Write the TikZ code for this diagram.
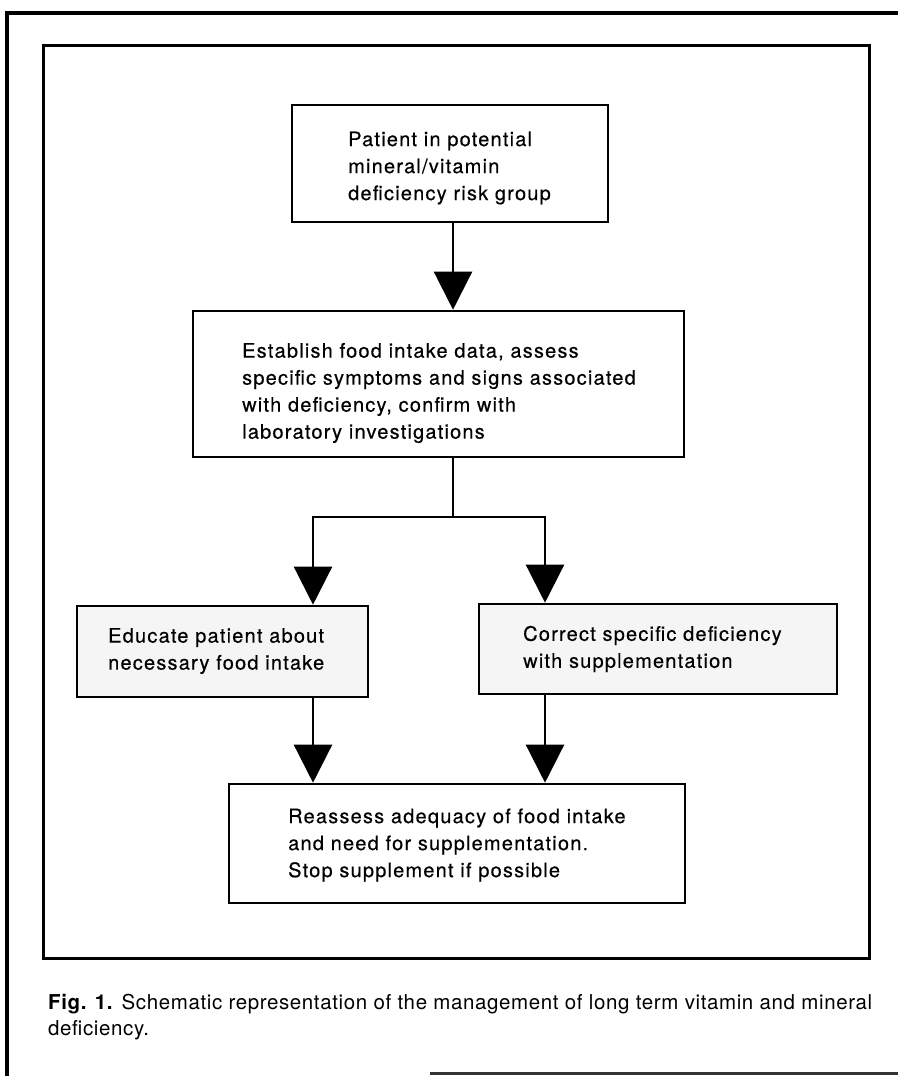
\documentclass[tikz,border=0pt]{standalone}
\usepackage{fontspec}
\setmainfont{TeX Gyre Heros}
\newfontfamily\boxfont[LetterSpace=6,FakeBold=0.4]{TeX Gyre Heros}
\newfontfamily\capfont[LetterSpace=3]{TeX Gyre Heros}
\usetikzlibrary{arrows.meta}
\begin{document}
\begin{tikzpicture}[x=1pt,y=-1pt,
  box/.style={draw, line width=2.6pt, rectangle, inner sep=0pt},
  shadebox/.style={box, fill=black!4},
  txt/.style={align=left, font=\boxfont\fontsize{20}{27}\selectfont, inner sep=0pt, anchor=west},
  conn/.style={line width=2.4pt, -{Triangle[width=38pt,length=38pt]}},
  plain/.style={line width=2.4pt}]
\useasboundingbox (0,0) rectangle (897,1076);
% outer page frame
\draw[line width=4pt] (910,13) -- (7,13) -- (7,1080);
\draw[line width=3pt, black!80] (430,1073) -- (910,1073);
% inner frame
\draw[line width=3pt] (43,45) rectangle (869,958);
% boxes
\node[box, minimum width=316pt, minimum height=117pt] (b1) at (450,163.5) {};
\node[box, minimum width=491pt, minimum height=146pt] (b2) at (438.5,384) {};
\node[shadebox, minimum width=291pt, minimum height=91pt] (b3) at (222.5,651.5) {};
\node[shadebox, minimum width=358pt, minimum height=90pt] (b4) at (658,649) {};
\node[box, minimum width=456pt, minimum height=119pt] (b5) at (457,843.5) {};
% texts
\node[txt] (t1) at (348,168) {Patient in potential\\mineral/vitamin\\deficiency risk group};
\node[txt] (t2) at (242,393) {Establish food intake data, assess\\specific symptoms and signs associated\\with deficiency, confirm with\\laboratory investigations};
\node[txt] (t3) at (108,651) {Educate patient about\\necessary food intake};
\node[txt] (t4) at (523,649) {Correct specific deficiency\\with supplementation};
\node[txt] (t5) at (288,845) {Reassess adequacy of food intake\\and need for supplementation.\\Stop supplement if possible};
% connectors
\coordinate (a1) at (453,0);
\coordinate (j) at (453,517);
\coordinate (jl) at (313,517);
\coordinate (jr) at (545,517);
\draw[conn] (b1.south -| a1) -- (b2.north -| a1);
\draw[plain] (b2.south -| a1) -- (j);
\draw[plain] ([xshift=-1.2pt]jl) -- ([xshift=1.2pt]jr);
\draw[conn] (jl) -- (b3.north -| jl);
\draw[conn] (jr) -- (b4.north -| jr);
\draw[conn] (b3.south -| jl) -- (b5.north -| jl);
\draw[conn] (b4.south -| jr) -- (b5.north -| jr);
% caption
\node[anchor=west, align=left, inner sep=0pt, font=\capfont\fontsize{20.5}{26}\selectfont] (cap) at (48,1017) {\textbf{Fig. 1.} Schematic representation of the management of long term vitamin and mineral\\deficiency.};
\end{tikzpicture}
\end{document}
